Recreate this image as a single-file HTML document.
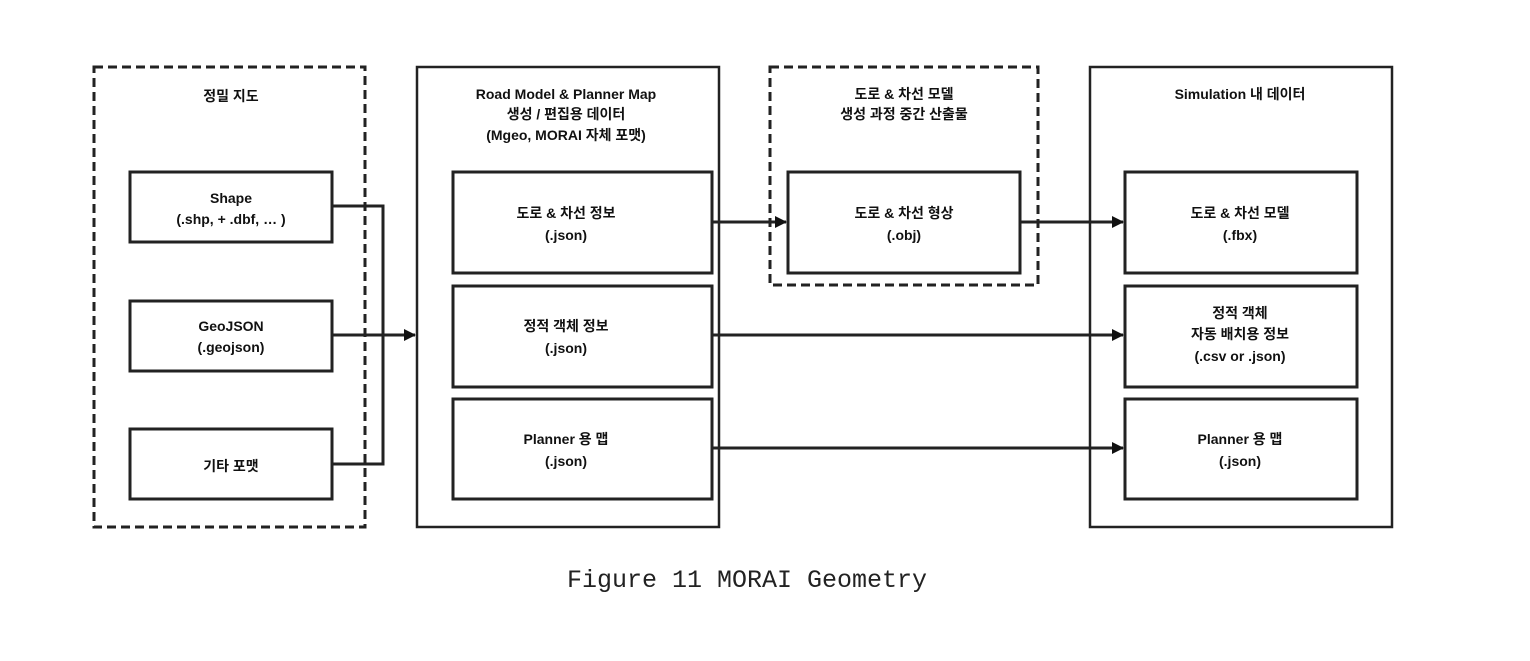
<!DOCTYPE html>
<html><head><meta charset="utf-8"><style>
body{margin:0;background:#fff;}
svg text{font-family:"Liberation Sans","Noto Sans CJK KR",sans-serif;font-weight:bold;font-size:14px;fill:#111;text-anchor:middle;}
</style></head><body>
<svg width="1530" height="656" xmlns="http://www.w3.org/2000/svg">
<defs><marker id="a" markerWidth="12" markerHeight="12" refX="11" refY="6" orient="auto" markerUnits="userSpaceOnUse"><path d="M0,0 L12,6 L0,12 z" fill="#111"/></marker></defs>
<g fill="none" stroke="#222" stroke-width="3">
<rect x="94" y="67" width="271" height="460" stroke-dasharray="9,5"/>
<rect x="417" y="67" width="302" height="460" stroke-width="2.5"/>
<rect x="770" y="67" width="268" height="218" stroke-dasharray="9,5"/>
<rect x="1090" y="67" width="302" height="460" stroke-width="2.5"/>
<rect x="130" y="172" width="202" height="70"/>
<rect x="130" y="301" width="202" height="70"/>
<rect x="130" y="429" width="202" height="70"/>
<rect x="453" y="172" width="259" height="101"/>
<rect x="453" y="286" width="259" height="101"/>
<rect x="453" y="399" width="259" height="100"/>
<rect x="788" y="172" width="232" height="101"/>
<rect x="1125" y="172" width="232" height="101"/>
<rect x="1125" y="286" width="232" height="101"/>
<rect x="1125" y="399" width="232" height="100"/>
<path d="M332,206 H383 V464 H332" />
<path d="M332,335 H415" marker-end="url(#a)"/>
<path d="M712,222 H786" marker-end="url(#a)"/>
<path d="M1020,222 H1123" marker-end="url(#a)"/>
<path d="M712,335 H1123" marker-end="url(#a)"/>
<path d="M712,448 H1123" marker-end="url(#a)"/>
</g>
<text x="231" y="101">정밀 지도</text>
<text x="566" y="99">Road Model &amp; Planner Map</text>
<text x="566" y="119">생성 / 편집용 데이터</text>
<text x="566" y="140">(Mgeo, MORAI 자체 포맷)</text>
<text x="904" y="99">도로 &amp; 차선 모델</text>
<text x="904" y="119">생성 과정 중간 산출물</text>
<text x="1240" y="99">Simulation 내 데이터</text>
<text x="231" y="203">Shape</text>
<text x="231" y="224">(.shp, + .dbf, … )</text>
<text x="231" y="331">GeoJSON</text>
<text x="231" y="352">(.geojson)</text>
<text x="231" y="471">기타 포맷</text>
<text x="566" y="218">도로 &amp; 차선 정보</text>
<text x="566" y="240">(.json)</text>
<text x="566" y="331">정적 객체 정보</text>
<text x="566" y="353">(.json)</text>
<text x="566" y="444">Planner 용 맵</text>
<text x="566" y="466">(.json)</text>
<text x="904" y="218">도로 &amp; 차선 형상</text>
<text x="904" y="240">(.obj)</text>
<text x="1240" y="218">도로 &amp; 차선 모델</text>
<text x="1240" y="240">(.fbx)</text>
<text x="1240" y="318">정적 객체</text>
<text x="1240" y="339">자동 배치용 정보</text>
<text x="1240" y="361">(.csv or .json)</text>
<text x="1240" y="444">Planner 용 맵</text>
<text x="1240" y="466">(.json)</text>
<text x="747" y="587" style="font-family:'Liberation Mono','Noto Serif CJK SC',monospace;font-weight:normal;font-size:25px;fill:#222">Figure 11 MORAI Geometry</text>
</svg>
</body></html>
